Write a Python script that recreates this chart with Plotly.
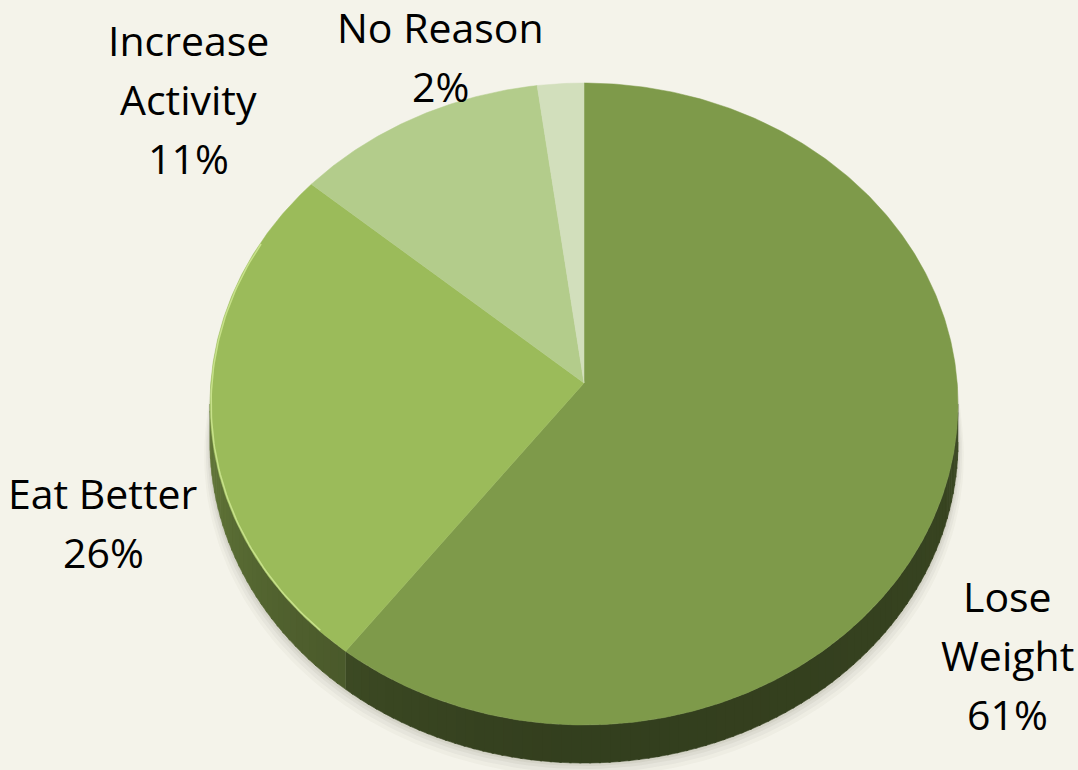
import numpy as np
import plotly.graph_objects as go

# ---- data ----
categories = ["Lose Weight", "Eat Better", "Increase Activity", "No Reason"]
values = [61, 26, 11, 2]
label_lines = [["Lose", "Weight"], ["Eat Better"], ["Increase", "Activity"], ["No Reason"]]

# ---- styles / layout ----
top_colors = ["#7E9A4A", "#9BBB5A", "#B3CC8B", "#D2DFBC"]
bg = "#F4F3EA"
W, H = 1078, 770
cx, cy = 584, 404          # ellipse centre (px)
ax_, ay_ = 584, 383        # apex of wedges (projected centre)
rx, ry = 374, 321          # ellipse radii
depth = 38                 # side thickness
label_pos = [(1007, 596), (103, 493), (188, 40), (440, 27)]   # centre of first line
line_gap = 59
font_family = "Open Sans"
font_size = 41


def hex_rgb(h):
    h = h.lstrip("#")
    return [int(h[i:i + 2], 16) for i in (0, 2, 4)]


def shade(h, f):
    r, g, b = hex_rgb(h)
    return "rgb(%d,%d,%d)" % (r * f, g * f, b * f)


def pt(theta_deg, dy=0.0, sx=1.0, sy=1.0):
    t = np.radians(theta_deg)
    return cx + rx * sx * np.sin(t), cy - ry * sy * np.cos(t) + dy


fig = go.Figure()

# soft shadow under the pie
for off, a in [(14, 0.03), (10, 0.04), (6, 0.05), (3, 0.06)]:
    th = np.linspace(85, 275, 120)
    xs, ys = pt(th, depth + off, 1.0 + off / 900, 1.0)
    xs2, ys2 = pt(th[::-1], 0)
    fig.add_trace(go.Scatter(x=np.r_[xs, xs2], y=np.r_[ys, ys2], fill="toself",
                             fillcolor="rgba(60,60,40,%.3f)" % a, line=dict(width=0),
                             mode="lines", hoverinfo="skip", showlegend=False))

total = float(sum(values))
bounds = np.r_[0, np.cumsum(values)] / total * 360.0


def side_factor(t):
    if t < 180:
        return 0.41 + 0.05 * ((180 - t) / 90) ** 2
    return 0.41 + 0.24 * ((t - 180) / 90) ** 1.5


# side of the pie
for i in range(len(values)):
    a0, a1 = max(bounds[i], 90), min(bounds[i + 1], 270)
    if a1 <= a0:
        continue
    n = max(2, int((a1 - a0) / 1.5) + 1)
    edges = np.linspace(a0, a1, n)
    for s0, s1 in zip(edges[:-1], edges[1:]):
        th = np.linspace(s0, s1 + 0.3 if s1 < a1 else s1, 4)
        xt, yt = pt(th)
        xb, yb = pt(th[::-1], depth)
        col = shade(top_colors[i], side_factor((s0 + s1) / 2))
        fig.add_trace(go.Scatter(x=np.r_[xt, xb], y=np.r_[yt, yb], fill="toself",
                                 fillcolor=col, line=dict(width=0.6, color=col),
                                 mode="lines", hoverinfo="skip", showlegend=False))

# top faces
for i in range(len(values)):
    th = np.linspace(bounds[i], bounds[i + 1], max(3, int(bounds[i + 1] - bounds[i]) * 2))
    xs, ys = pt(th)
    fig.add_trace(go.Scatter(x=np.r_[ax_, xs, ax_], y=np.r_[ay_, ys, ay_], fill="toself",
                             fillcolor=top_colors[i], line=dict(width=0.5, color=top_colors[i]),
                             mode="lines", name=categories[i],
                             hovertemplate=f"{categories[i]}: {values[i]}%<extra></extra>",
                             showlegend=False))

# subtle rim highlight on the left
th = np.linspace(225, 300, 80)
xs, ys = pt(th, 0, 0.997, 0.997)
fig.add_trace(go.Scatter(x=xs, y=ys, mode="lines", line=dict(color="rgba(210,235,150,0.8)", width=1.5),
                         hoverinfo="skip", showlegend=False))

# labels
for i, lines in enumerate(label_lines):
    x0, y0 = label_pos[i]
    all_lines = lines + [f"{values[i]}%"]
    for j, txt in enumerate(all_lines):
        fig.add_annotation(x=x0, y=y0 + j * line_gap, text=txt, showarrow=False,
                           xanchor="center", yanchor="middle",
                           font=dict(family=font_family, size=font_size, color="#000000"))

fig.update_xaxes(range=[0, W], visible=False, fixedrange=True)
fig.update_yaxes(range=[H, 0], visible=False, fixedrange=True)
fig.update_layout(width=W, height=H, autosize=False, margin=dict(l=0, r=0, t=0, b=0),
                  paper_bgcolor=bg, plot_bgcolor=bg, showlegend=False)

fig.write_html("out.html", config={"displayModeBar": False},
               post_script="document.body.style.margin='0';document.body.style.overflow='hidden';")
